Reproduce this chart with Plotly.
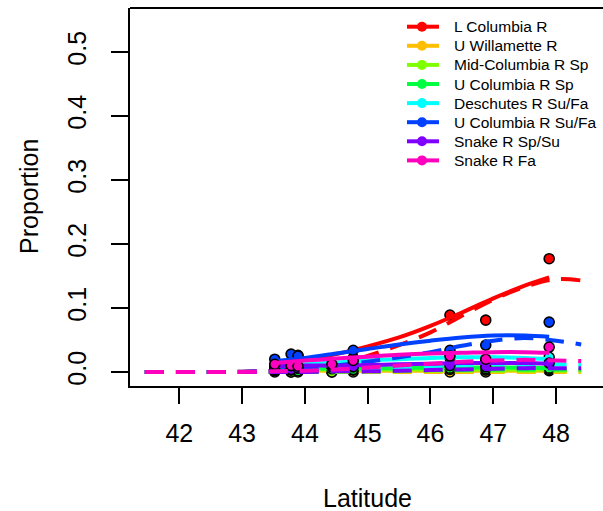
import plotly.graph_objects as go

# ---------------- data ----------------
stocks = ["L Columbia R", "U Willamette R", "Mid-Columbia R Sp", "U Columbia R Sp",
          "Deschutes R Su/Fa", "U Columbia R Su/Fa", "Snake R Sp/Su", "Snake R Fa"]
colors = ["#FF0000", "#FFBF00", "#80FF00", "#00FF40",
          "#00FFFF", "#0040FF", "#8000FF", "#FF00BF"]

# sampled sites (latitude) and observed proportions per stock
site_lat = [43.52, 43.78, 43.89, 44.43, 44.77, 46.31, 46.88, 47.89]
obs = {
    "L Columbia R":       [0.008, 0.012, 0.026, 0.006, 0.022, 0.089, 0.081, 0.177],
    "U Willamette R":     [0.000, 0.000, 0.000, 0.000, 0.000, 0.000, 0.000, 0.002],
    "Mid-Columbia R Sp":  [0.002, 0.000, 0.003, 0.000, 0.003, 0.004, 0.003, 0.004],
    "U Columbia R Sp":    [0.004, 0.003, 0.002, 0.005, 0.004, 0.006, 0.005, 0.006],
    "Deschutes R Su/Fa":  [0.010, 0.008, 0.006, 0.008, 0.015, 0.022, 0.016, 0.023],
    "U Columbia R Su/Fa": [0.020, 0.028, 0.025, 0.010, 0.034, 0.034, 0.042, 0.078],
    "Snake R Sp/Su":      [0.005, 0.004, 0.006, 0.009, 0.008, 0.010, 0.008, 0.014],
    "Snake R Fa":         [0.012, 0.010, 0.009, 0.012, 0.018, 0.025, 0.020, 0.039],
}

# fitted curve over observed range (solid)
fit_lat = [43.52, 44.0, 44.5, 45.0, 45.5, 46.0, 46.5, 47.0, 47.5, 47.89]
fit = {
    "L Columbia R":       [0.013, 0.019, 0.028, 0.040, 0.054, 0.072, 0.093, 0.115, 0.135, 0.148],
    "U Willamette R":     [0.002, 0.002, 0.002, 0.002, 0.002, 0.002, 0.002, 0.002, 0.002, 0.002],
    "Mid-Columbia R Sp":  [0.004, 0.004, 0.004, 0.004, 0.004, 0.004, 0.004, 0.004, 0.004, 0.004],
    "U Columbia R Sp":    [0.005, 0.005, 0.006, 0.006, 0.006, 0.007, 0.007, 0.007, 0.007, 0.006],
    "Deschutes R Su/Fa":  [0.010, 0.012, 0.015, 0.018, 0.020, 0.022, 0.023, 0.023, 0.022, 0.020],
    "U Columbia R Su/Fa": [0.017, 0.022, 0.029, 0.036, 0.043, 0.049, 0.054, 0.057, 0.057, 0.055],
    "Snake R Sp/Su":      [0.009, 0.010, 0.010, 0.011, 0.012, 0.013, 0.014, 0.014, 0.014, 0.013],
    "Snake R Fa":         [0.014, 0.018, 0.021, 0.024, 0.027, 0.029, 0.030, 0.031, 0.031, 0.030],
}

# predicted curve over full range (dashed)
pred_lat = [41.45, 42.0, 42.5, 43.0, 43.5, 44.0, 44.5, 45.0, 45.5, 46.0, 46.5, 47.0, 47.5, 48.0, 48.4]
pred = {
    "L Columbia R":       [0, 0, 0, 0.0005, 0.002, 0.005, 0.012, 0.025, 0.042, 0.062, 0.088, 0.113, 0.133, 0.145, 0.143],
    "U Willamette R":     [0, 0, 0, 0, 0, 0, 0, 0, 0, 0, 0, 0, 0, 0, 0],
    "Mid-Columbia R Sp":  [0, 0, 0, 0, 0, 0, 0, 0.001, 0.001, 0.002, 0.002, 0.002, 0.002, 0.002, 0.002],
    "U Columbia R Sp":    [0, 0, 0, 0, 0, 0, 0.001, 0.001, 0.002, 0.003, 0.003, 0.004, 0.004, 0.004, 0.004],
    "Deschutes R Su/Fa":  [0, 0, 0, 0, 0, 0.001, 0.002, 0.004, 0.006, 0.009, 0.011, 0.012, 0.012, 0.012, 0.011],
    "U Columbia R Su/Fa": [0, 0, 0, 0.0005, 0.002, 0.005, 0.010, 0.016, 0.023, 0.031, 0.041, 0.049, 0.053, 0.049, 0.043],
    "Snake R Sp/Su":      [0, 0, 0, 0, 0, 0, 0.001, 0.001, 0.002, 0.003, 0.004, 0.005, 0.006, 0.006, 0.006],
    "Snake R Fa":         [0, 0, 0, 0, 0.001, 0.002, 0.004, 0.007, 0.010, 0.013, 0.016, 0.018, 0.019, 0.018, 0.017],
}

x_ticks = [42, 43, 44, 45, 46, 47, 48]
y_ticks = [0.0, 0.1, 0.2, 0.3, 0.4, 0.5]

# ---------------- figure ----------------
W, H = 603, 511
L, R, T, B = 130, 0, 8, 125
FONT = "Liberation Sans, Arial, Helvetica, sans-serif"

fig = go.Figure()
for name, col in zip(stocks, colors):
    fig.add_trace(go.Scatter(
        x=site_lat, y=obs[name], mode="markers", name=name, showlegend=False,
        marker=dict(size=10, color=col, line=dict(color="black", width=1.6)),
        cliponaxis=False))
    fig.add_trace(go.Scatter(
        x=fit_lat, y=fit[name], mode="lines", name=name, showlegend=False,
        line=dict(color=col, width=4, shape="spline")))
    fig.add_trace(go.Scatter(
        x=pred_lat, y=pred[name], mode="lines", name=name, showlegend=False,
        line=dict(color=col, width=4, dash="19px,12px", shape="spline")))

# manual legend (R-style, no box)
pw, ph = W - L - R, H - T - B
def px(xp):
    return (xp - L) / pw
def py(yp):
    return (H - B - yp) / ph

shapes = [dict(type="line", xref="paper", yref="paper", x0=0, x1=1, y0=1, y1=1,
               line=dict(color="black", width=1.8))]
annotations = []
leg_y0, leg_dy = 26.7, 19.1
for i, (name, col) in enumerate(zip(stocks, colors)):
    yc = leg_y0 + i * leg_dy
    shapes.append(dict(type="line", xref="paper", yref="paper",
                       x0=px(407), x1=px(439), y0=py(yc), y1=py(yc),
                       line=dict(color=col, width=4)))
    shapes.append(dict(type="circle", xref="paper", yref="paper",
                       x0=px(417), x1=px(427), y0=py(yc + 5), y1=py(yc - 5),
                       fillcolor=col, line=dict(color=col, width=0)))
    annotations.append(dict(text=name, xref="paper", yref="paper", x=px(452), y=py(yc),
                            xanchor="left", yanchor="middle", showarrow=False,
                            font=dict(family=FONT, size=15.5, color="black")))

annotations.append(dict(text="Latitude", xref="paper", yref="paper", x=px(367.5), y=0,
                        yshift=-(B + 3), xanchor="center", yanchor="bottom", showarrow=False,
                        font=dict(family=FONT, size=25, color="black")))
annotations.append(dict(text="Proportion", xref="paper", yref="paper", x=0, xshift=-101,
                        y=0.5, textangle=-90, xanchor="center", yanchor="middle",
                        showarrow=False, font=dict(family=FONT, size=25, color="black")))

fig.update_layout(
    width=W, height=H, margin=dict(l=L, r=R, t=T, b=B, pad=0),
    paper_bgcolor="white", plot_bgcolor="white",
    font=dict(family=FONT, size=25, color="black"),
    shapes=shapes, annotations=annotations, showlegend=False,
    xaxis=dict(range=[41.215, 48.747], tickvals=x_ticks, ticktext=[str(v) for v in x_ticks],
               ticks="outside", ticklen=16, tickwidth=1.8, tickcolor="black",
               showline=True, linecolor="black", linewidth=1.8,
               showgrid=False, zeroline=False, ticklabelstandoff=8,
               tickfont=dict(family=FONT, size=25, color="black")),
    yaxis=dict(range=[-0.021875, 0.56875], tickvals=y_ticks,
               ticktext=["%.1f" % v for v in y_ticks], tickangle=-90,
               ticks="outside", ticklen=17, tickwidth=1.8, tickcolor="black",
               showline=True, linecolor="black", linewidth=1.8,
               showgrid=False, zeroline=False, ticklabelstandoff=15,
               tickfont=dict(family=FONT, size=25, color="black")),
)

fig.write_html("out.html", config={"displayModeBar": False},
               post_script="document.body.style.margin='0';document.body.style.overflow='hidden';")
